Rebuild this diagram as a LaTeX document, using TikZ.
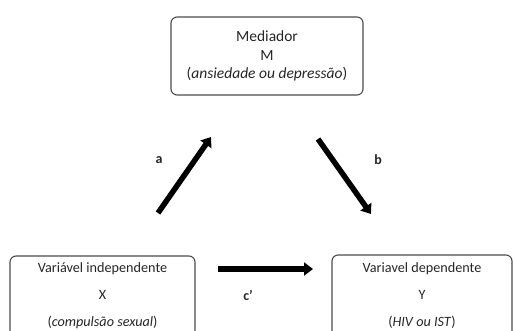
\documentclass[tikz,border=0pt]{standalone}
\usepackage{fontspec}
\setmainfont{Carlito}
\usetikzlibrary{arrows.meta, positioning}

\begin{document}
\begin{tikzpicture}[x=1pt, y=-1pt,
                box/.style = {
                    rectangle, rounded corners=6pt,
                    draw=black!70, line width=1.1pt,
                    inner sep=0pt, text=black!85,
                    align=center
                },
                arrow/.style = {
                    draw, -{Triangle[width=13pt, length=9pt]},
                    line width=5.5pt, black
                },
                lbl/.style = {
                    font=\fontsize{14}{16}\selectfont\bfseries,
                    text=black!85
                }
                ]

                \useasboundingbox (0,0) rectangle (513,331);

                % boxes
                \node[box, minimum width=192pt, minimum height=78pt,
                      font=\fontsize{15.5}{18.5}\selectfont] (med) at (267,56)
                      {Mediador\\M\\(\textit{ansiedade ou depressão})};
                \node[box, minimum width=185pt, minimum height=80pt,
                      font=\fontsize{14.2}{27}\selectfont] (indep) at (102.5,296)
                      {Variável independente\\X\\(\textit{compulsão sexual})};
                \node[box, minimum width=180pt, minimum height=82pt,
                      font=\fontsize{14.2}{27}\selectfont] (dep) at (422,296)
                      {Variavel dependente\\Y\\(\textit{HIV ou IST})};

                % arrow ends
                \coordinate (a0) at (158,213);
                \coordinate (a1) at (211,137);
                \coordinate (b0) at (318,139);
                \coordinate (b1) at (371,214);
                \coordinate (c0) at (218,269);
                \coordinate (c1) at (313,269);

                \path[arrow] (a0)--(a1);
                \path[arrow] (b0)--(b1);
                \path[arrow] (c0)--(c1);

                \node[lbl] (la) at (159,160) {a};
                \node[lbl] (lb) at (378,160) {b};
                \node[lbl, below=18pt of c0, xshift=30pt] (lc) {c’};
\end{tikzpicture}
\end{document}
